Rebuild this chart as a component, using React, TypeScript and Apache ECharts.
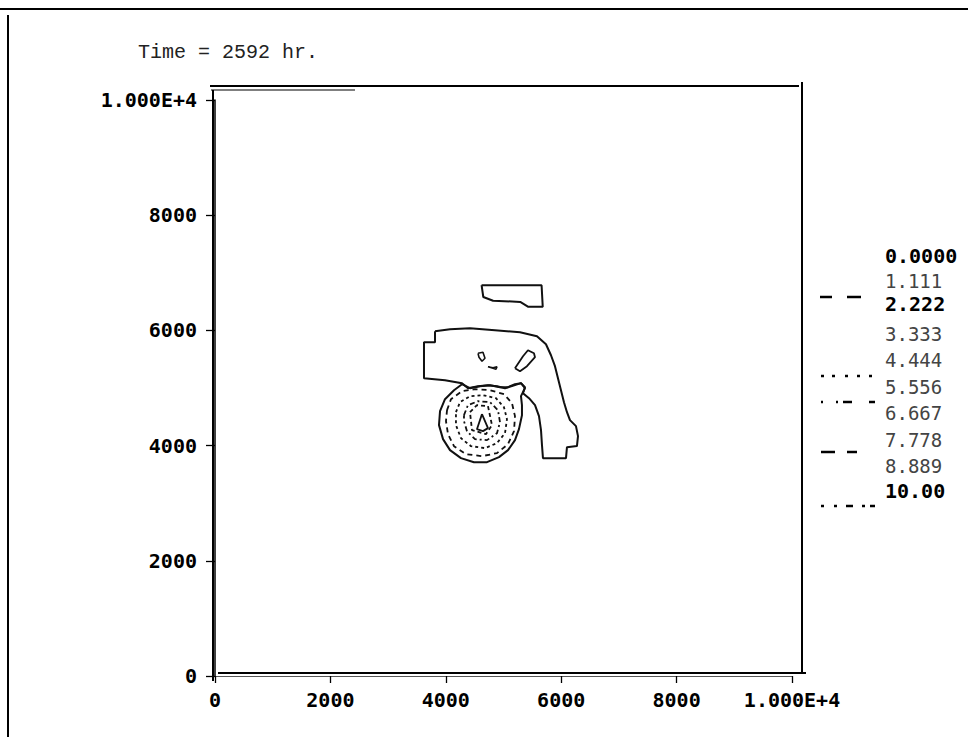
import React, { useEffect, useRef } from "react";
import * as echarts from "echarts";

// ---------- data ----------
const titleText = "Time = 2592 hr.";
const axisTickValues = [0, 2000, 4000, 6000, 8000, 10000];
const legendLevels = ["0.0000", "1.111", "2.222", "3.333", "4.444", "5.556", "6.667", "7.778", "8.889", "10.00"];
const legendBold = [true, false, true, false, false, false, false, false, false, true];

// contour lines (data coordinates)
const outerContour = [
  [3813, 5986], [4073, 6020], [4419, 6038], [4852, 6003], [5286, 5968], [5580, 5899], [5736, 5760],
  [5823, 5569], [5892, 5379], [5944, 5170], [5996, 4962], [6048, 4754], [6100, 4580], [6152, 4442],
  [6256, 4338], [6291, 4164], [6273, 3991], [6100, 3973], [6083, 3782], [5684, 3782], [5667, 4008],
  [5650, 4268], [5615, 4511], [5546, 4702], [5442, 4823], [5338, 4910], [5372, 5014], [5303, 5084],
  [5147, 5032], [5026, 4997], [4887, 5032], [4731, 5049], [4558, 5032], [4385, 4997], [4281, 5084],
  [3986, 5136], [3622, 5170], [3622, 5795], [3813, 5795],
];
const blobContour = [
  [4281, 5066], [4419, 4997], [4592, 5032], [4766, 5049], [4939, 5014], [5078, 5014], [5199, 5066],
  [5303, 5084], [5372, 4997], [5303, 4858], [5320, 4702], [5320, 4528], [5268, 4286], [5199, 4095],
  [5078, 3921], [4922, 3800], [4714, 3712], [4488, 3712], [4263, 3782], [4073, 3921], [3952, 4112],
  [3882, 4355], [3900, 4598], [3986, 4806], [4142, 4962],
];
const ring1 = [
  [4021, 4615], [4090, 4806], [4281, 4945], [4506, 4980], [4766, 4962], [5008, 4893], [5147, 4737],
  [5199, 4511], [5182, 4251], [5078, 4025], [4887, 3869], [4627, 3817], [4350, 3852], [4142, 3990],
  [4038, 4199], [4003, 4424],
];
const ring2 = [
  [4176, 4580], [4246, 4754], [4419, 4858], [4644, 4875], [4870, 4823], [5008, 4667], [5060, 4459],
  [5026, 4216], [4887, 4043], [4679, 3956], [4437, 3990], [4263, 4129], [4176, 4355],
];
const ring3 = [
  [4315, 4528], [4384, 4702], [4558, 4771], [4766, 4754], [4904, 4615], [4939, 4407], [4887, 4216],
  [4714, 4095], [4506, 4112], [4367, 4251], [4315, 4424],
];
const ring4 = [
  [4419, 4580], [4540, 4702], [4731, 4685], [4800, 4355], [4696, 4199], [4454, 4268],
];
const coreDiamond = [
  [4627, 4546], [4731, 4303], [4644, 4251], [4540, 4285],
];
const topPatch = [
  [4620, 6785], [5660, 6785], [5680, 6410], [5430, 6410], [5290, 6495], [4820, 6515], [4650, 6580],
];
const smallLoop = [
  [4558, 5604], [4644, 5621], [4679, 5517], [4627, 5465], [4575, 5535],
];
const smallDot = [
  [4731, 5370], [4818, 5353], [4887, 5370], [4870, 5327], [4818, 5344],
];
const smallDiamond = [
  [5199, 5344], [5338, 5552], [5424, 5656], [5528, 5604], [5546, 5535], [5407, 5379], [5286, 5292],
];

// ---------- layout (pixels) ----------
const legendY = [256, 281, 304, 334, 360, 387, 413, 440, 466, 491];
const legendSamples = [
  { y: 297, segs: [[820, 832], [847, 861]] },
  { y: 376, segs: [[821, 824], [832, 835], [845, 848], [857, 860], [869, 872]] },
  { y: 402, segs: [[821, 823], [836, 838], [843, 852], [869, 875]] },
  { y: 452, segs: [[821, 835], [847, 857]] },
  { y: 506, segs: [[821, 824], [834, 837], [846, 853], [862, 865], [870, 875]] },
];

export default function App() {
  const ref = useRef<HTMLDivElement>(null);

  useEffect(() => {
    const chart = echarts.init(ref.current!, null, { renderer: "svg" });
    const closed = (pts: number[][]) => [...pts, pts[0]];

    const contours: { name: string; pts: number[][]; type: any; width: number }[] = [
      { name: "outer", pts: outerContour, type: "solid", width: 2 },
      { name: "blob", pts: blobContour, type: "solid", width: 2 },
      { name: "ring1", pts: ring1, type: [5, 4], width: 1.8 },
      { name: "ring2", pts: ring2, type: [3, 3], width: 1.8 },
      { name: "ring3", pts: ring3, type: [5, 3, 2, 3], width: 1.8 },
      { name: "ring4", pts: ring4, type: [4, 3], width: 1.8 },
      { name: "core", pts: coreDiamond, type: "solid", width: 1.8 },
      { name: "top", pts: topPatch, type: "solid", width: 2 },
      { name: "loop", pts: smallLoop, type: "solid", width: 1.6 },
      { name: "dot", pts: smallDot, type: "solid", width: 1.6 },
      { name: "diamond", pts: smallDiamond, type: "solid", width: 1.8 },
    ];

    const series = contours.map((c) => ({
      name: c.name,
      type: "line",
      data: closed(c.pts),
      symbol: "none",
      showSymbol: false,
      silent: true,
      clip: false,
      lineStyle: { color: "#111", width: c.width, type: c.type },
    }));

    const ln = (x1: number, y1: number, x2: number, y2: number, w = 2) => ({
      type: "line",
      silent: true,
      shape: { x1, y1, x2, y2 },
      style: { stroke: "#000", lineWidth: w },
    });

    const graphics: any[] = [
      // page border
      ln(0, 9, 968, 9, 2),
      ln(8, 15, 8, 737, 2),
      // plot frame
      ln(210, 86, 799, 86, 2),
      ln(211, 90, 355, 90, 1.2),
      ln(213, 90, 213, 681, 2),
      ln(802, 82, 802, 673, 2),
      ln(218, 673, 806, 673, 2),
      {
        type: "text",
        left: 138,
        top: 42,
        style: {
          text: titleText,
          font: '20px "Liberation Mono", monospace',
          fill: "#222",
        },
      },
    ];

    legendLevels.forEach((lab, i) => {
      graphics.push({
        type: "text",
        x: 885,
        y: legendY[i],
        style: {
          text: lab,
          font: legendBold[i]
            ? 'bold 20px "DejaVu Sans Mono", monospace'
            : '19px "DejaVu Sans Mono", monospace',
          fill: legendBold[i] ? "#000" : "#444",
          verticalAlign: "middle",
          align: "left",
        },
      });
    });
    legendSamples.forEach((s) => {
      s.segs.forEach(([a, b]) => graphics.push(ln(a, s.y, b, s.y, 2.5)));
    });

    const labelFmt = (v: number) =>
      axisTickValues.indexOf(v) < 0 ? "" : v === 10000 ? "1.000E+4" : String(v);

    const axisCommon = {
      type: "value",
      min: 0,
      max: 10000,
      interval: 2000,
      splitLine: { show: false },
    };

    chart.setOption({
      animation: false,
      backgroundColor: "#fff",
      grid: { left: 215, top: 100, width: 577, height: 576, containLabel: false },
      xAxis: {
        ...axisCommon,
        axisLine: { show: true, onZero: false, lineStyle: { color: "#555", width: 1 } },
        axisTick: { show: true, length: 7, inside: false, lineStyle: { color: "#000", width: 1.3 } },
        axisLabel: {
          margin: 14,
          color: "#000",
          fontFamily: '"DejaVu Sans Mono", monospace',
          fontWeight: "bold",
          fontSize: 20,
          formatter: labelFmt,
        },
      },
      yAxis: {
        ...axisCommon,
        axisLine: { show: true, onZero: false, lineStyle: { color: "#000", width: 1.5 } },
        axisTick: { show: true, length: 9, inside: false, lineStyle: { color: "#000", width: 1.3 } },
        axisLabel: {
          margin: 18,
          color: "#000",
          fontFamily: '"DejaVu Sans Mono", monospace',
          fontWeight: "bold",
          fontSize: 20,
          formatter: labelFmt,
        },
      },
      series,
      graphic: graphics,
    });

    return () => chart.dispose();
  }, []);

  return (
    <div
      ref={ref}
      style={{ position: "fixed", left: 0, top: 0, width: 968, height: 737, background: "#fff" }}
    />
  );
}
